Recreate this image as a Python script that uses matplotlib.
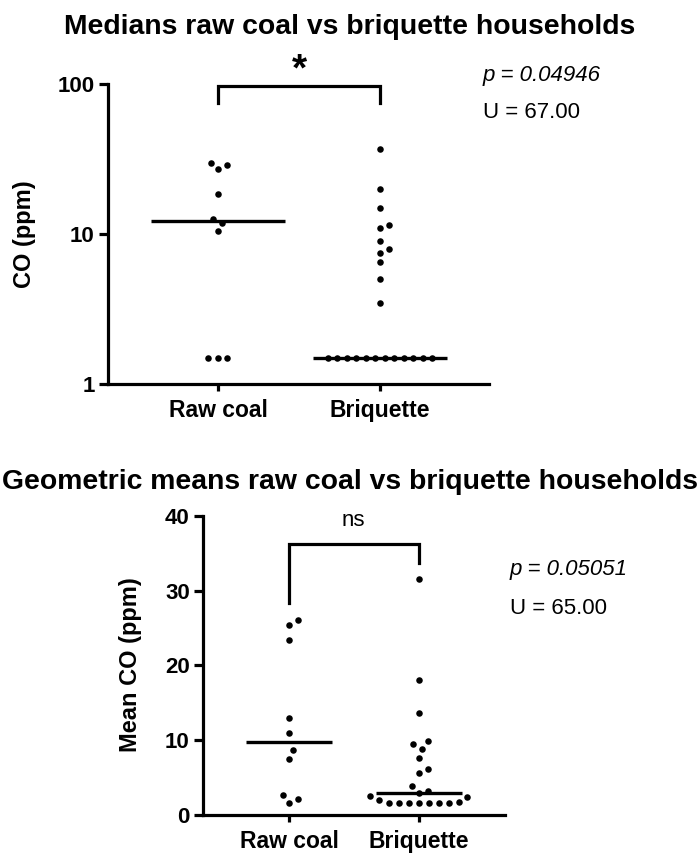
import numpy as np
import matplotlib
matplotlib.use("Agg")
import matplotlib.pyplot as plt

plt.rcParams['font.family'] = ['Liberation Sans', 'DejaVu Sans']

# ---------------- data ----------------
categories = ["Raw coal", "Briquette"]

# Top panel: CO (ppm), log scale
top_raw = [29.9, 27.2, 29.0, 18.4, 11.9, 12.6, 10.4, 1.5, 1.5, 1.5]
top_briq = [36.7, 19.9, 14.9, 11.4, 10.9, 8.98, 7.98, 7.51, 6.48, 4.99, 3.47,
            1.5, 1.5, 1.5, 1.5, 1.5, 1.5, 1.5, 1.5, 1.5, 1.5, 1.5, 1.5]
top_title = "Medians raw coal vs briquette households"
top_ylabel = "CO (ppm)"
top_yticks = [1, 10, 100]
top_sig = "*"
top_p = "p = 0.04946"
top_u = "U = 67.00"

# Bottom panel: mean CO (ppm), linear
bot_raw = [25.4, 26.0, 23.4, 13.0, 10.9, 8.65, 7.45, 2.67, 2.14, 1.56]
bot_briq = [31.55, 18.05, 13.6, 9.85, 9.49, 8.86, 7.58, 6.19, 5.57, 3.88, 3.25,
            2.9, 2.54, 2.45, 2.05, 1.78, 1.56, 1.56, 1.56, 1.56, 1.56, 1.56, 1.56]
bot_title = "Geometric means raw coal vs briquette households"
bot_ylabel = "Mean CO (ppm)"
bot_yticks = [0, 10, 20, 30, 40]
bot_sig = "ns"
bot_p = "p = 0.05051"
bot_u = "U = 65.00"

W, H = 700, 860
fig = plt.figure(figsize=(W / 100, H / 100), dpi=100)


def fx(px):
    return px / W


def fy(py):
    return 1 - py / H


def swarm_offsets(ax, vals, d_px, px_per_unit):
    vals = np.asarray(vals, float)
    ys = np.array([ax.transData.transform((0, v))[1] for v in vals])
    n = len(vals)
    order = np.argsort(vals, kind="stable")
    offs = np.zeros(n)
    placed = []
    for i in order:
        cands = [0.0]
        for (xj, yj) in placed:
            dy = ys[i] - yj
            if abs(dy) < d_px:
                dx = np.sqrt(d_px ** 2 - dy ** 2)
                cands += [xj + dx, xj - dx]
        valid = []
        for c in cands:
            ok = all((c - xj) ** 2 + (ys[i] - yj) ** 2 >= d_px ** 2 - 1e-6 for (xj, yj) in placed)
            if ok:
                valid.append(c)
        valid.sort(key=lambda c: (round(abs(c), 6), -c))
        offs[i] = valid[0]
        placed.append((valid[0], ys[i]))
    # center rows of identical values
    for v in np.unique(vals):
        idx = np.where(vals == v)[0]
        if len(idx) > 1:
            k = len(idx)
            offs[idx] = (np.arange(k) - (k - 1) / 2) * d_px
    return offs / px_per_unit


def style_axes(ax):
    for s in ["top", "right"]:
        ax.spines[s].set_visible(False)
    for s in ["left", "bottom"]:
        ax.spines[s].set_linewidth(2.3)
    ax.tick_params(axis="y", length=6.5, width=2.3, pad=3, labelsize=16)
    ax.tick_params(axis="x", length=5, width=2.3, pad=6, labelsize=16.5)
    for lab in ax.get_xticklabels() + ax.get_yticklabels():
        lab.set_fontweight("bold")


def panel(ax, groups, half_w, d_px, ylog, ylim, yticks, xlim):
    ax.set_xlim(*xlim)
    if ylog:
        ax.set_yscale("log")
    ax.set_ylim(*ylim)
    ax.set_yticks(yticks)
    ax.set_yticklabels([str(t) for t in yticks])
    ax.minorticks_off()
    ax.set_xticks(range(len(categories)))
    ax.set_xticklabels(categories)
    bbox = ax.get_window_extent()
    ppu = bbox.width / (xlim[1] - xlim[0])
    for i, vals in enumerate(groups):
        offs = swarm_offsets(ax, vals, d_px, ppu)
        ax.plot(i + offs, vals, "o", color="black", ms=4.7, mew=0, clip_on=False, zorder=3)
        med = np.median(vals)
        ax.plot([i - half_w, i + half_w], [med, med], color="black", lw=2.4,
                solid_capstyle="butt", zorder=2)
    style_axes(ax)


# ---------------- top panel ----------------
ax1 = fig.add_axes([fx(108), fy(384), (489 - 108) / W, (384 - 84) / H])
panel(ax1, [top_raw, top_briq], 0.415, 9.5, True, (1, 100), top_yticks, (-0.679, 1.673))
ax1.plot([0, 0, 1, 1], [74.5, 97, 97, 74.5], color="black", lw=2.3, clip_on=False,
         solid_joinstyle="miter")
fig.text(fx(299), fy(70), top_sig, ha="center", va="center", fontsize=28, fontweight="bold")
fig.text(0.5, fy(27), top_title, ha="center", va="center", fontsize=20.4, fontweight="bold")
fig.text(fx(25), fy(234), top_ylabel, ha="center", va="center", rotation=90,
         fontsize=17, fontweight="bold")
fig.text(fx(483), fy(75), top_p, ha="left", va="center", fontsize=16, style="italic")
fig.text(fx(483), fy(113), top_u, ha="left", va="center", fontsize=16)

# ---------------- bottom panel ----------------
ax2 = fig.add_axes([fx(203), fy(815), (505 - 203) / W, (815 - 515.7) / H])
panel(ax2, [bot_raw, bot_briq], 0.33, 10, False, (0, 40), bot_yticks, (-0.663, 1.665))
ax2.plot([0, 0, 1, 1], [28.3, 36.2, 36.2, 33.7], color="black", lw=2.3, clip_on=False,
         solid_joinstyle="miter")
fig.text(fx(353), fy(521), bot_sig, ha="center", va="center", fontsize=16)
fig.text(0.5, fy(482), bot_title, ha="center", va="center", fontsize=20.4, fontweight="bold")
fig.text(fx(131), fy(665), bot_ylabel, ha="center", va="center", rotation=90,
         fontsize=17, fontweight="bold")
fig.text(fx(510), fy(570), bot_p, ha="left", va="center", fontsize=16, style="italic")
fig.text(fx(510), fy(608), bot_u, ha="left", va="center", fontsize=16)

fig.savefig("out.png", dpi=100)
